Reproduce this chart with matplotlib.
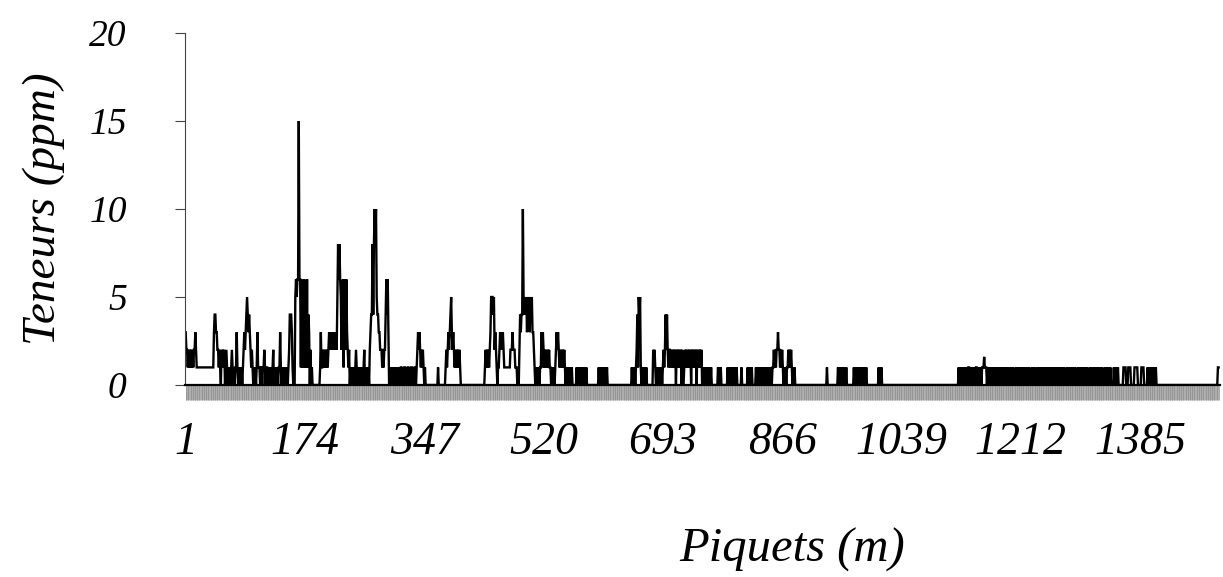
import numpy as np
import matplotlib.pyplot as plt
from matplotlib.ticker import FixedLocator

# teneurs codees : un caractere par piquet (chiffre = ppm, a = 10, f = 15, h = 1.6)
CODES = {'0': 0, '1': 1, '2': 2, '3': 3, '4': 4, '5': 5, '6': 6, '8': 8,
         'a': 10, 'f': 15, 'h': 1.6}

# (premier piquet, teneurs successives) ; ailleurs teneur nulle
seg_debut = (1,
    "322" "1212121212" "232" "11111111111111111" "1111111" "1344332"
    "212102121201" "21010101210101" "131" "0101010" "12323454343212"
    "1010101" "31" "1101101121011" "01010101201010" "101131010"
    "0101010124443" "1000" "5656" "6f6" "616151615161" "4302010"
    "0000000000" "131" "1212121212323232323232" "5868" "6525616526"
    "3212010" "01010121010101010120101010" "234" "4848a8a" "5443322"
    "212122" "4646" "3010101010101010101" "1010110101101011010110"
    "1232321212" "1010" "0000000000000000" "010" "000000000"
    "121232345323" "2121212121")
seg_500 = (435,
    "1212121" "2355545232" "101" "123232321" "1111111" "1222322211"
    "1010" "2434" "4a5" "4545354535453" "3210101" "0101" "1313"
    "2121212121" "1010" "0101" "2323" "212121212" "101010101010" "0000"
    "01010101010101010")
seg_600 = (599, "01010101010101")
seg_700 = (648,
    "1010101" "241545" "1010101010" "0000000" "021210" "010101010"
    "1212424212" "2121212120212121202" "101" "21212121202121212021212120"
    "1010101010101")
seg_800 = [(772, "0101010"), (786, "010"), (789, "0101010101010"),
           (806, "010"), (815, "010101010")]
seg_850 = (827,
    "01010101010101010101010101" "121212" "232" "212121" "010101"
    "121212" "101010")
seg_900 = [(930, "010"), (946, "010101010101010"),
           (969, "01010101010101010101"), (1005, "0101010")]
seg_1200 = (1121,
    "0101010" "10101010110101010101101010101" "11h111"
    "01010101010101010101010101" "001010001010100" "0101010101010101010"
    "01000101010001" "01010101010101001010101010101010101" "01010001010"
    "101010101000101" "00101010101000" "1010101010101010101"
    "000101010101000" "0101010100" "0000" "011110" "001111000"
    "00111110000" "011110000" "010101010101010")
seg_fin = (1497, "011")

n_piquets = 1499
tick_vals = [1, 174, 347, 520, 693, 866, 1039, 1212, 1385]
y_ticks = [0, 5, 10, 15, 20]

segments = [seg_debut, seg_500, seg_600, seg_700] + seg_800 + [seg_850] + seg_900 + [seg_1200, seg_fin]
teneurs = np.zeros(n_piquets)
for debut, codes in segments:
    vals = [CODES[c] for c in codes]
    teneurs[debut - 1:debut - 1 + len(vals)] = vals
piquets = np.arange(1, n_piquets + 1)

plt.rcParams['font.family'] = 'Liberation Serif'
plt.rcParams['font.style'] = 'italic'

fig = plt.figure(figsize=(12.23, 5.77), dpi=100)
ax = fig.add_axes([185 / 1223, 192 / 577, 1035 / 1223, 352 / 577])
ax.plot(piquets, teneurs, color='black', lw=1.7, solid_joinstyle='miter')
ax.set_xlim(0, 1501)
ax.set_ylim(0, 20)

for s in ['top', 'right']:
    ax.spines[s].set_visible(False)
ax.spines['left'].set_color('#444444')
ax.spines['left'].set_linewidth(0.8)
ax.spines['bottom'].set_linewidth(1.6)

ax.set_yticks(y_ticks)
ax.tick_params(axis='y', direction='out', length=7, width=0.8, color='#444444',
               pad=35, labelsize=27)
ax.set_xticks(tick_vals)
ax.xaxis.set_minor_locator(FixedLocator(piquets))
ax.tick_params(axis='x', which='both', direction='out', length=11, width=0.5,
               color='#8c8c8c', pad=15, labelsize=33)

ax.set_ylabel('Teneurs (ppm)', fontsize=34)
ax.yaxis.set_label_coords(-0.116, 0.5)
ax.set_xlabel('Piquets (m)', fontsize=35)
ax.xaxis.set_label_coords(0.5865, -0.405)

fig.savefig('out.png', dpi=100)
